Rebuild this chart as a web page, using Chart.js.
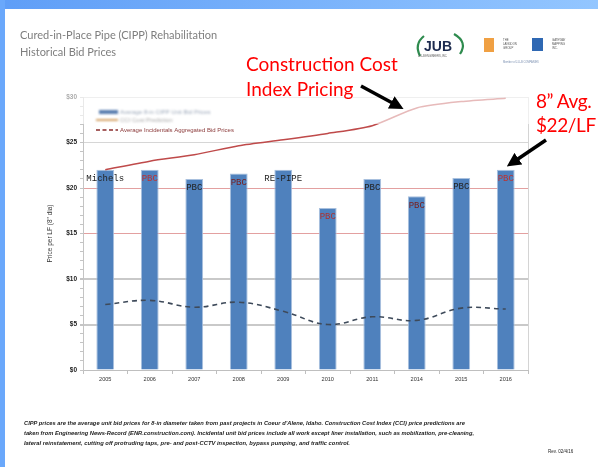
<!DOCTYPE html>
<html>
<head>
<meta charset="utf-8">
<script src="https://cdn.jsdelivr.net/npm/chart.js@4.4.1/dist/chart.umd.min.js"></script>
<style>
body{margin:0;width:598px;height:467px;position:relative;overflow:hidden;background:#fff;font-family:"Liberation Sans",Arial,sans-serif}
.abs{position:absolute;white-space:nowrap}
#topband{left:0;top:0;width:598px;height:9px;background:linear-gradient(to right,#5f9ef7,#93c6ff)}
#leftband{left:0;top:0;width:5px;height:467px;background:#6aa8fb}
.title{left:20px;font-family:Lato,sans-serif;font-size:11px;color:#7e7e7e}
.red{font-family:Lato,sans-serif;font-size:19px;color:#ff0000;line-height:19px}
.foot{left:24px;font-style:italic;font-weight:bold;font-size:5.6px;color:#222;transform-origin:0 50%}
</style>
</head>
<body>
<div id="topband" class="abs"></div>
<div id="leftband" class="abs"></div>
<canvas id="myChart" width="598" height="467" style="position:absolute;left:0;top:0"></canvas>

<div class="abs title" style="top:28px">Cured-in-Place Pipe (CIPP) Rehabilitation</div>
<div class="abs title" style="top:45px">Historical Bid Prices</div>

<div class="abs red" style="left:246px;top:54px">Construction Cost</div>
<div class="abs red" style="left:246px;top:79px">Index Pricing</div>
<div class="abs red" style="left:536px;top:91px;letter-spacing:-0.4px">8” Avg.</div>
<div class="abs red" style="left:536px;top:115px;letter-spacing:-0.4px">$22/LF</div>

<!-- logos -->
<svg class="abs" style="left:410px;top:30px" width="188" height="40">
  <path d="M14 6 Q4 14 10 26" stroke="#2e8b4e" stroke-width="2.2" fill="none"/>
  <path d="M44 4 Q58 12 50 24" stroke="#2e8b4e" stroke-width="2.2" fill="none"/>
  <text x="14" y="21" font-family="Liberation Sans" font-weight="bold" font-size="14" fill="#1d2b4f">JUB</text>
  <text x="8" y="27" font-family="Liberation Sans" font-size="2.6" fill="#555">J-U-B ENGINEERS, INC.</text>
  <rect x="74" y="8" width="10" height="14" fill="#f0a043"/>
  <text x="93" y="11" font-family="Liberation Sans" font-size="2.8" fill="#555">THE</text>
  <text x="93" y="15" font-family="Liberation Sans" font-size="2.8" fill="#555">LANGDON</text>
  <text x="93" y="19" font-family="Liberation Sans" font-size="2.8" fill="#555">GROUP</text>
  <rect x="122" y="8" width="11" height="13" fill="#2f68b3"/>
  <text x="142" y="11" font-family="Liberation Sans" font-size="2.8" fill="#555">GATEWAY</text>
  <text x="142" y="15" font-family="Liberation Sans" font-size="2.8" fill="#555">MAPPING</text>
  <text x="142" y="19" font-family="Liberation Sans" font-size="2.8" fill="#555">INC.</text>
  <text x="93" y="33" font-family="Liberation Sans" font-size="2.6" fill="#7a8fb0">Member of J-U-B COMPANIES</text>
</svg>

<!-- arrows -->
<svg class="abs" style="left:0;top:0;pointer-events:none" width="598" height="467">
  <defs>
    <marker id="ah" markerWidth="4" markerHeight="4" refX="2.2" refY="2" orient="auto">
      <path d="M0,0 L4,2 L0,4 z" fill="#000"/>
    </marker>
  </defs>
  <line x1="361" y1="86" x2="398" y2="106" stroke="#000" stroke-width="3.5" marker-end="url(#ah)"/>
  <line x1="546" y1="140" x2="512" y2="163" stroke="#000" stroke-width="3.5" marker-end="url(#ah)"/>
</svg>

<div class="abs foot" id="f1" style="top:420px" data-w="441">CIPP prices are the average unit bid prices for 8-in diameter taken from past projects in Coeur d’Alene, Idaho. Construction Cost Index (CCI) price predictions are</div>
<div class="abs foot" id="f2" style="top:430px" data-w="450">taken from Engineering News-Record (ENR.construction.com). Incidental unit bid prices include all work except liner installation, such as mobilization, pre-cleaning,</div>
<div class="abs foot" id="f3" style="top:440px" data-w="326">lateral reinstatement, cutting off protruding taps, pre- and post-CCTV inspection, bypass pumping, and traffic control.</div>
<div class="abs foot" style="left:548px;top:449px;font-size:4.5px;font-style:normal;font-weight:normal">Rev. 02/4/16</div>

<script>
// chart values
const years = ['2005','2006','2007','2008','2009','2010','2011','2014','2015','2016'];
const bidPrices = [22.0, 22.0, 21.0, 21.6, 22.0, 17.8, 21.0, 19.1, 21.1, 22.0];
const cciPrices = [22.0, 22.95, 23.65, 24.65, 25.3, 26.0, 26.85, 28.8, 29.5, 29.85];
const incidentals = [7.2, 7.65, 6.9, 7.45, 6.45, 5.0, 5.85, 5.45, 6.8, 6.7];
const contractors = ['Michels','PBC','PBC','PBC','RE-PIPE','PBC','PBC','PBC','PBC','PBC'];
const contractorColors = ['#222','#b33','#222','#722','#222','#a33','#222','#722','#222','#b33'];
const yMax = 30;

// fit footnote lines to their width
document.querySelectorAll('.foot[data-w]').forEach(el => {
    const w = el.getBoundingClientRect().width;
    el.style.transform = 'scaleX(' + (parseFloat(el.dataset.w) / w) + ')';
});

function gridColor(v){
    if (v === 20 || v === 15) return '#e3a0a0';
    if (v === 10 || v === 5) return '#c9c9c9';
    if (v % 5 === 0) return '#d6d6d6';
    return 'rgba(0,0,0,0)';
}

const barLabels = {
    id: 'barLabels',
    afterDatasetsDraw(chart){
        const ctx = chart.ctx;
        const meta = chart.getDatasetMeta(0);
        ctx.save();
        ctx.font = '9px "Liberation Mono", monospace';
        ctx.textAlign = 'center';
        ctx.textBaseline = 'middle';
        meta.data.forEach((bar, i) => {
            ctx.fillStyle = contractorColors[i];
            ctx.fillText(contractors[i], bar.x, bar.y + 9);
        });

        // right frame line
        const a = chart.chartArea;
        ctx.strokeStyle = '#d4d4d4';
        ctx.lineWidth = 1;
        ctx.beginPath();
        ctx.moveTo(a.right + 0.5, a.top);
        ctx.lineTo(a.right + 0.5, a.bottom);
        ctx.stroke();

        // washed out legend box
        ctx.fillStyle = 'rgba(255,255,255,0.62)';
        ctx.fillRect(52, 90, 478, 34);

        const ds = chart.data.datasets;
        ctx.textAlign = 'left';
        ctx.font = '6px "Liberation Sans", Arial';
        ctx.filter = 'blur(1px)';
        ctx.fillStyle = '#5b7fb0';
        ctx.fillRect(99, 110, 19, 4);
        ctx.fillStyle = '#9aa6b8';
        ctx.fillText(ds[0].label, 120, 112);
        ctx.strokeStyle = '#d6a56a';
        ctx.lineWidth = 2;
        ctx.beginPath(); ctx.moveTo(96, 120); ctx.lineTo(118, 120); ctx.stroke();
        ctx.fillStyle = '#a8a8a8';
        ctx.fillText(ds[1].label, 120, 120);
        ctx.filter = 'none';

        ctx.strokeStyle = '#8b2c2c';
        ctx.lineWidth = 1.5;
        ctx.setLineDash([4, 2.5]);
        ctx.beginPath(); ctx.moveTo(96, 130); ctx.lineTo(118, 130); ctx.stroke();
        ctx.setLineDash([]);
        ctx.fillStyle = '#8b3a3a';
        ctx.fillText(ds[2].label, 120, 130);
        ctx.restore();
    }
};

const ctx = document.getElementById('myChart').getContext('2d');
const myChart = new Chart(ctx, {
    type: 'bar',
    data: {
        labels: years,
        datasets: [{
            label: 'Average 8-in CIPP Unit Bid Prices',
            data: bidPrices,
            backgroundColor: '#4f81bd',
            borderColor: '#a8c0de',
            borderWidth: 1,
            barPercentage: 0.4,
            categoryPercentage: 1,
            order: 2
        }, {
            type: 'line',
            label: 'CCI Cost Prediction',
            data: cciPrices,
            borderColor: '#bf4a4a',
            borderWidth: 1.5,
            pointRadius: 0,
            tension: 0.25,
            order: 1
        }, {
            type: 'line',
            label: 'Average Incidentals Aggregated Bid Prices',
            data: incidentals,
            borderColor: '#3e4a5a',
            borderWidth: 1.6,
            borderDash: [5, 4],
            pointRadius: 0,
            tension: 0.4,
            order: 0
        }]
    },
    options: {
        responsive: false,
        animation: false,
        devicePixelRatio: 1,
        layout: { padding: { left: 40, right: 70, top: 97, bottom: 0 } },
        plugins: { legend: { display: false }, tooltip: { enabled: false } },
        scales: {
            x: {
                afterFit: s => { s.height = 97; },
                grid: { offset: true, drawOnChartArea: false, tickLength: 4, color: '#bfbfbf' },
                border: { color: '#bfbfbf' },
                ticks: { color: '#333', font: { size: 5.6, family: '"Liberation Sans", Arial' }, padding: 2, maxRotation: 0 }
            },
            y: {
                min: 0,
                max: yMax,
                afterFit: s => { s.width = 43; },
                grid: {
                    color: c => gridColor(c.tick.value),
                    lineWidth: c => (c.tick.value === 10 || c.tick.value === 5) ? 2 : 1,
                    tickColor: '#c4c4c4',
                    tickLength: 3
                },
                border: { color: '#c4c4c4' },
                ticks: {
                    stepSize: 1,
                    autoSkip: false,
                    padding: 3,
                    color: '#222',
                    font: { size: 6.5, weight: 'bold', family: '"Liberation Sans", Arial' },
                    callback: v => v % 5 === 0 ? '$' + v : ''
                },
                title: {
                    display: true,
                    text: 'Price per LF (8" dia)',
                    color: '#333',
                    font: { size: 6.5, family: '"Liberation Sans", Arial' },
                    padding: { top: 6, bottom: 0 }
                }
            }
        }
    },
    plugins: [barLabels]
});
</script>
</body>
</html>
